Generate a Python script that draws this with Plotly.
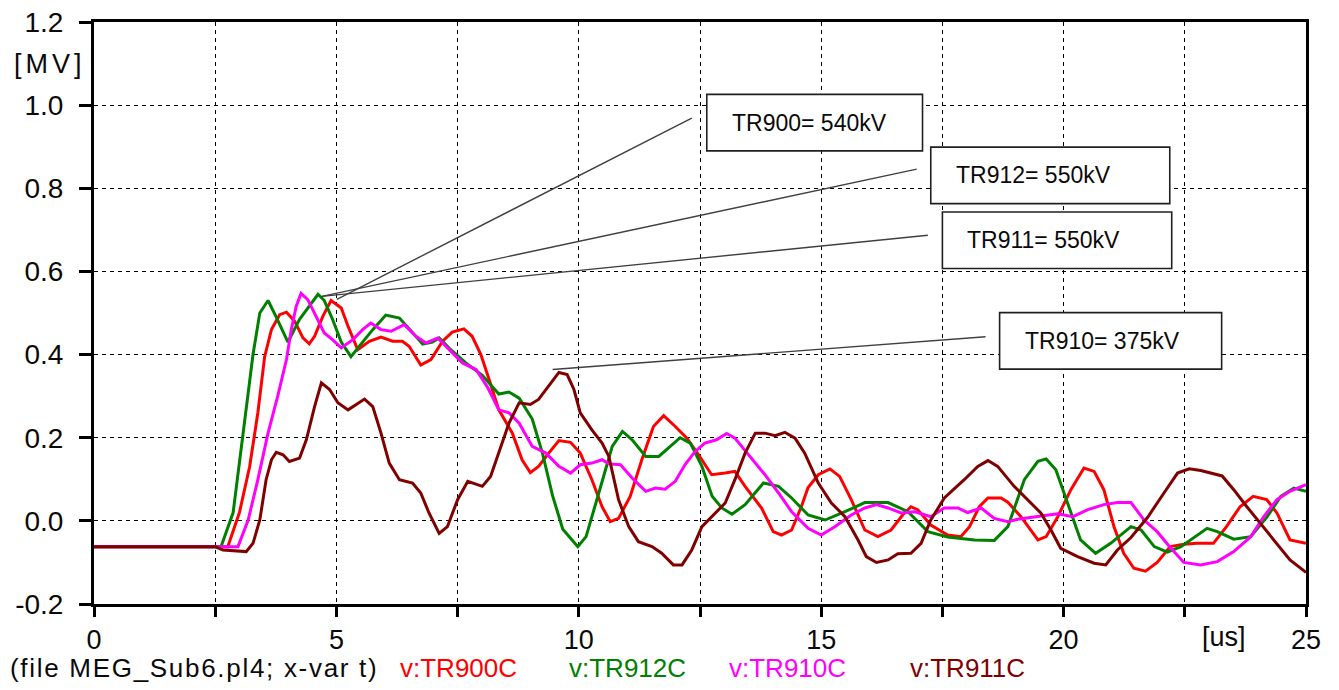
import plotly.graph_objects as go

# ---------------- data (t in us, v in MV) ----------------
t_tr900 = [0, 2.76, 3.0, 3.21, 3.38, 3.52, 3.66, 3.83, 3.97, 4.14, 4.31, 4.44, 4.55, 4.72, 4.89, 5.1, 5.24, 5.44,
           5.68, 5.92, 6.16, 6.36, 6.5, 6.74, 6.95, 7.19, 7.39, 7.63, 7.8, 7.98, 8.15, 8.35, 8.63, 8.83, 9.0, 9.17,
           9.38, 9.59, 9.83, 10.03, 10.27, 10.48, 10.65, 10.82, 11.06, 11.3, 11.54, 11.75, 11.99, 12.23, 12.47,
           12.74, 13.02, 13.22, 13.43, 13.77, 14.01, 14.18, 14.39, 14.59, 14.73, 14.94, 15.18, 15.38, 15.62, 15.9,
           16.17, 16.44, 16.68, 16.85, 16.99, 17.26, 17.61, 17.88, 18.06, 18.26, 18.44, 18.71, 18.85, 19.12, 19.47,
           19.64, 19.88, 20.15, 20.42, 20.63, 20.83, 21.04, 21.24, 21.45, 21.69, 21.93, 22.2, 22.48, 22.75, 23.09,
           23.36, 23.64, 23.91, 24.19, 24.4, 24.67, 25.0]
v_tr900 = [-0.062, -0.062, 0.02, 0.13, 0.26, 0.395, 0.46, 0.496, 0.502, 0.48, 0.44, 0.426, 0.444, 0.492, 0.53, 0.512,
           0.468, 0.412, 0.432, 0.442, 0.432, 0.432, 0.42, 0.375, 0.388, 0.432, 0.454, 0.462, 0.444, 0.4, 0.34, 0.267,
           0.211, 0.147, 0.116, 0.131, 0.163, 0.193, 0.189, 0.163, 0.099, 0.034, -0.002, 0.006, 0.059, 0.147, 0.227,
           0.253, 0.227, 0.199, 0.159, 0.111, 0.115, 0.119, 0.083, 0.031, -0.026, -0.034, -0.022, 0.034, 0.08, 0.111,
           0.125, 0.107, 0.051, -0.022, -0.038, -0.022, 0.014, 0.034, 0.027, -0.01, -0.034, -0.038, -0.014, 0.034,
           0.055, 0.055, 0.045, 0.01, -0.046, -0.038, 0.01, 0.075, 0.127, 0.119, 0.075, -0.014, -0.078, -0.114,
           -0.121, -0.1, -0.062, -0.056, -0.054, -0.054, -0.014, 0.034, 0.059, 0.051, 0.019, -0.046, -0.054]

t_tr912 = [0, 2.62, 2.87, 3.07, 3.28, 3.42, 3.59, 3.76, 4.0, 4.24, 4.62, 4.75, 4.92, 5.1, 5.3, 5.54, 5.75, 6.02, 6.3,
           6.5, 6.78, 6.98, 7.12, 7.33, 7.67, 8.01, 8.35, 8.56, 8.77, 9.04, 9.25, 9.46, 9.67, 9.98, 10.15, 10.42,
           10.69, 10.9, 11.1, 11.38, 11.65, 12.09, 12.3, 12.54, 12.75, 12.95, 13.16, 13.43, 13.81, 14.12, 14.39,
           14.73, 15.08, 15.49, 15.9, 16.38, 16.79, 17.2, 17.61, 18.16, 18.57, 18.85, 19.19, 19.47, 19.64, 19.84,
           20.08, 20.35, 20.66, 20.97, 21.39, 21.6, 21.87, 22.14, 22.42, 22.96, 23.17, 23.51, 23.86, 24.2, 24.48,
           24.75, 25.0]
v_tr912 = [-0.062, -0.062, 0.02, 0.2, 0.4, 0.5, 0.53, 0.49, 0.43, 0.485, 0.545, 0.53, 0.485, 0.43, 0.395, 0.43, 0.46,
           0.495, 0.488, 0.462, 0.425, 0.43, 0.44, 0.415, 0.38, 0.35, 0.305, 0.31, 0.295, 0.245, 0.163, 0.06, -0.02,
           -0.062, -0.038, 0.07, 0.179, 0.215, 0.195, 0.155, 0.155, 0.2, 0.187, 0.131, 0.059, 0.031, 0.016, 0.039,
           0.091, 0.083, 0.055, 0.014, 0.002, 0.022, 0.044, 0.044, 0.022, -0.026, -0.039, -0.046, -0.047, -0.014,
           0.099, 0.143, 0.149, 0.123, 0.043, -0.046, -0.078, -0.054, -0.014, -0.022, -0.062, -0.075, -0.062,
           -0.018, -0.026, -0.044, -0.038, 0.01, 0.059, 0.079, 0.071]

t_tr910 = [0, 2.97, 3.18, 3.38, 3.59, 3.79, 3.97, 4.07, 4.17, 4.27, 4.41, 4.58, 4.75, 4.92, 5.1, 5.34, 5.54, 5.71,
           5.92, 6.13, 6.4, 6.64, 6.85, 7.09, 7.29, 7.6, 7.88, 8.11, 8.35, 8.56, 8.77, 9.04, 9.32, 9.59, 9.83, 10.03,
           10.27, 10.48, 10.62, 10.86, 11.1, 11.38, 11.58, 11.78, 11.99, 12.19, 12.4, 12.6, 12.84, 13.05, 13.22,
           13.5, 13.84, 14.12, 14.39, 14.73, 15.0, 15.28, 15.62, 15.9, 16.14, 16.38, 16.65, 16.93, 17.26, 17.54,
           17.82, 18.02, 18.3, 18.57, 18.85, 19.05, 19.47, 19.88, 20.19, 20.5, 20.83, 21.11, 21.39, 21.66, 21.93,
           22.2, 22.48, 22.83, 23.17, 23.51, 23.86, 24.13, 24.4, 24.67, 25.0]
v_tr910 = [-0.062, -0.062, 0.002, 0.099, 0.211, 0.3, 0.388, 0.46, 0.516, 0.547, 0.532, 0.492, 0.452, 0.436, 0.416,
           0.436, 0.46, 0.476, 0.46, 0.456, 0.472, 0.444, 0.428, 0.44, 0.416, 0.38, 0.364, 0.323, 0.267, 0.26, 0.235,
           0.179, 0.163, 0.131, 0.115, 0.135, 0.139, 0.147, 0.137, 0.135, 0.103, 0.071, 0.079, 0.076, 0.095, 0.135,
           0.167, 0.187, 0.195, 0.21, 0.199, 0.159, 0.111, 0.067, 0.022, -0.018, -0.034, -0.014, 0.014, 0.031, 0.039,
           0.031, 0.019, 0.022, 0.01, 0.031, 0.031, 0.02, 0.031, 0.006, -0.002, 0.004, 0.01, 0.017, 0.01, 0.027,
           0.039, 0.044, 0.044, 0.002, -0.026, -0.064, -0.1, -0.106, -0.098, -0.074, -0.038, 0.01, 0.051, 0.071,
           0.087]

t_tr911 = [0, 2.5, 2.66, 3.14, 3.28, 3.42, 3.55, 3.66, 3.76, 3.9, 4.03, 4.24, 4.38, 4.55, 4.69, 4.86, 5.03, 5.24,
           5.41, 5.58, 5.75, 5.92, 6.09, 6.3, 6.57, 6.74, 6.91, 7.12, 7.29, 7.5, 7.71, 8.01, 8.18, 8.35, 8.56, 8.77,
           9.0, 9.17, 9.38, 9.59, 9.76, 9.9, 10.03, 10.27, 10.48, 10.62, 10.82, 11.03, 11.23, 11.51, 11.71, 11.95,
           12.13, 12.33, 12.54, 12.82, 13.02, 13.22, 13.43, 13.64, 13.84, 14.05, 14.25, 14.46, 14.66, 14.94, 15.21,
           15.49, 15.76, 15.93, 16.14, 16.38, 16.58, 16.85, 17.06, 17.26, 17.54, 17.95, 18.23, 18.44, 18.64, 18.98,
           19.26, 19.53, 19.74, 19.94, 20.29, 20.63, 20.87, 21.11, 21.39, 21.73, 22.07, 22.35, 22.59, 22.83, 23.27,
           23.51, 23.78, 24.06, 24.4, 24.67, 25.0]
v_tr911 = [-0.062, -0.062, -0.07, -0.074, -0.054, 0.002, 0.099, 0.147, 0.165, 0.159, 0.143, 0.151, 0.195, 0.275,
           0.332, 0.316, 0.284, 0.267, 0.28, 0.293, 0.275, 0.211, 0.139, 0.099, 0.091, 0.067, 0.019, -0.03, -0.014,
           0.051, 0.095, 0.083, 0.107, 0.163, 0.235, 0.284, 0.28, 0.292, 0.324, 0.357, 0.352, 0.316, 0.26, 0.219,
           0.187, 0.155, 0.051, -0.014, -0.05, -0.062, -0.078, -0.106, -0.106, -0.07, -0.014, 0.019, 0.043, 0.099,
           0.163, 0.211, 0.211, 0.205, 0.213, 0.199, 0.163, 0.091, 0.043, 0.01, -0.046, -0.086, -0.1, -0.094, -0.079,
           -0.078, -0.054, 0.002, 0.055, 0.099, 0.131, 0.145, 0.131, 0.083, 0.051, 0.019, -0.022, -0.066, -0.086,
           -0.102, -0.106, -0.07, -0.04, 0.008, 0.067, 0.115, 0.125, 0.121, 0.108, 0.075, 0.034, -0.006, -0.054,
           -0.094, -0.124]

series_names = ["v:TR900C", "v:TR912C", "v:TR910C", "v:TR911C"]
series_colors = ["#ff0000", "#008000", "#ff00ff", "#800000"]

x_tickvals = [0, 2.5, 5, 7.5, 10, 12.5, 15, 17.5, 20, 22.5, 25]
x_ticktext = ["0", "", "5", "", "10", "", "15", "", "20", "", "25"]
y_tickvals = [-0.2, 0.0, 0.2, 0.4, 0.6, 0.8, 1.0, 1.2]
y_ticktext = ["-0.2", "0.0", "0.2", "0.4", "0.6", "0.8", "1.0", "1.2"]

# annotation boxes: label, box left x, box right x, box center y
box_labels = ["TR900= 540kV", "TR912= 550kV", "TR911= 550kV", "TR910= 375kV"]
box_x0 = [12.64, 17.26, 17.5, 18.68]
box_x1 = [17.09, 22.19, 22.23, 23.26]
box_yc = [0.958, 0.831, 0.675, 0.433]
# leader lines: start (peak) and end points
lead_x0 = [5.01, 4.7, 4.7, 9.46]
lead_y0 = [0.533, 0.54, 0.54, 0.364]
lead_x1 = [12.33, 16.97, 17.2, 18.39]
lead_y1 = [0.969, 0.846, 0.687, 0.443]

# bottom caption row positions (paper fraction of plot width)
caption_text = "(file MEG_Sub6.pl4; x-var t)"
caption_x = -0.0706
legend_x = [0.2508, 0.3903, 0.5223, 0.6716]

FONT = "Liberation Sans, Arial, sans-serif"
TXT = "#0a0a0a"

fig = go.Figure()
all_t = [t_tr900, t_tr912, t_tr910, t_tr911]
all_v = [v_tr900, v_tr912, v_tr910, v_tr911]
for t, v, n, c in zip(all_t, all_v, series_names, series_colors):
    fig.add_trace(go.Scatter(x=t, y=v, mode="lines", name=n,
                             line=dict(color=c, width=3), showlegend=False))

shapes = []
for xa, ya, xb, yb in zip(lead_x0, lead_y0, lead_x1, lead_y1):
    shapes.append(dict(type="line", xref="x", yref="y", x0=xa, y0=ya, x1=xb, y1=yb,
                       line=dict(color="#404040", width=1.4)))
for x0, x1, yc in zip(box_x0, box_x1, box_yc):
    shapes.append(dict(type="rect", xref="x", yref="y", x0=x0, x1=x1,
                       y0=yc - 0.068, y1=yc + 0.068,
                       line=dict(color="#202020", width=1.6), fillcolor="white", layer="above"))

annotations = []
for lab, x0, x1, yc in zip(box_labels, box_x0, box_x1, box_yc):
    annotations.append(dict(x=x0, y=yc, xref="x", yref="y", text=lab, showarrow=False,
                            xanchor="left", yanchor="middle", xshift=23,
                            font=dict(family=FONT, size=23, color=TXT)))

annotations.append(dict(x=0, y=1.1, xref="x", yref="y",
                        text='<span style="letter-spacing:4px">[MV]</span>', showarrow=False,
                        xanchor="right", yanchor="middle", xshift=-6,
                        font=dict(family=FONT, size=27, color=TXT)))
annotations.append(dict(x=0.9325, y=-0.027, xref="paper", yref="paper", text="[us]", showarrow=False,
                        xanchor="center", yanchor="top",
                        font=dict(family=FONT, size=27, color=TXT)))
annotations.append(dict(x=caption_x, y=-0.11, xref="paper", yref="paper",
                        text='<span style="letter-spacing:1.7px">' + caption_text + '</span>',
                        showarrow=False, xanchor="left", yanchor="middle",
                        font=dict(family=FONT, size=26, color=TXT)))
for n, c, lx in zip(series_names, series_colors, legend_x):
    annotations.append(dict(x=lx, y=-0.11, xref="paper", yref="paper", text=n, showarrow=False,
                            xanchor="left", yanchor="middle",
                            font=dict(family=FONT, size=26, color=c)))

fig.update_layout(
    width=1339, height=690,
    margin=dict(l=86, r=41, t=14, b=94),
    paper_bgcolor="white", plot_bgcolor="white",
    shapes=shapes, annotations=annotations,
    font=dict(family=FONT, size=27, color=TXT),
)
fig.update_xaxes(range=[0, 25], tickmode="array", tickvals=x_tickvals, ticktext=x_ticktext,
                 showline=True, linecolor="black", linewidth=3, mirror=True,
                 ticks="outside", ticklen=10, tickwidth=3, tickcolor="black",
                 showgrid=True, gridcolor="black", gridwidth=1, griddash="4px,4px",
                 zeroline=False, ticklabelstandoff=0, automargin=False, ticklabeloverflow="allow",
                 tickfont=dict(family=FONT, size=27, color=TXT))
fig.update_yaxes(range=[-0.2, 1.2], tickmode="array", tickvals=y_tickvals, ticktext=y_ticktext,
                 showline=True, linecolor="black", linewidth=3, mirror=True,
                 ticks="outside", ticklen=12, tickwidth=3, tickcolor="black",
                 showgrid=True, gridcolor="black", gridwidth=1, griddash="4px,4px",
                 zeroline=False, ticklabelstandoff=10, automargin=False, ticklabeloverflow="allow",
                 tickfont=dict(family=FONT, size=28, color=TXT))

fig.write_html("out.html")
